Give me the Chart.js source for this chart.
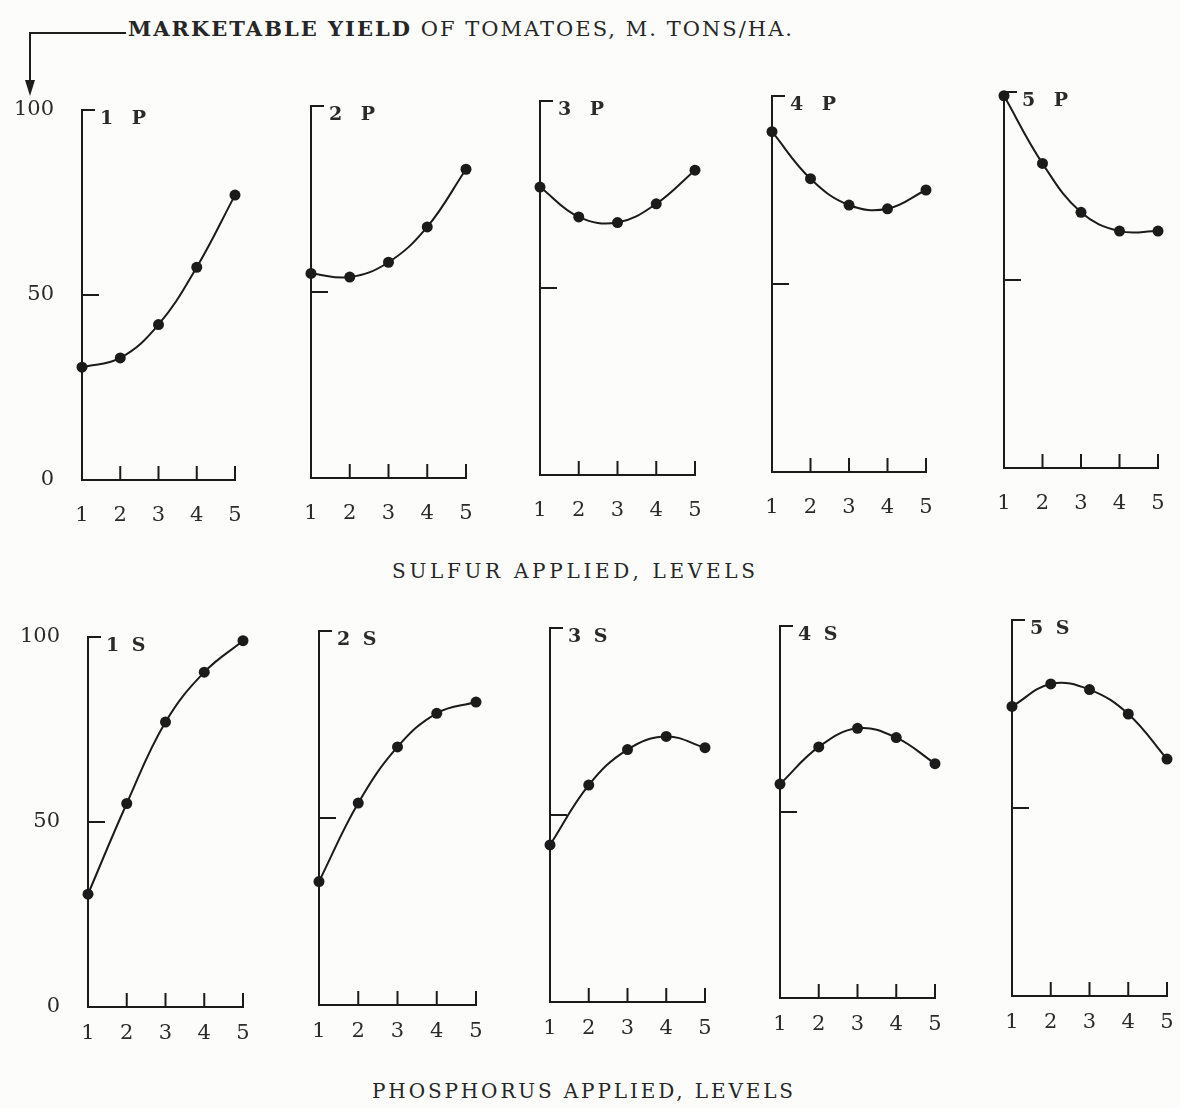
<!DOCTYPE html>
<html>
<head>
<meta charset="utf-8">
<title>Marketable yield of tomatoes</title>
<script src="https://cdn.jsdelivr.net/npm/chart.js@4.4.1/dist/chart.umd.min.js"></script>
<style>
  html, body { margin: 0; padding: 0; background: #fcfcfb; }
  #page { position: relative; width: 1180px; height: 1108px; overflow: hidden; }
  #page canvas { position: absolute; }
  #captions { position: absolute; left: 0; top: 0; }
  #captions text { font-family: 'DejaVu Serif', serif; fill: #262626; }
</style>
</head>
<body>
<div id="page">
  <svg id="captions" width="1180" height="1108">
    <polyline points="126,33 30,33 30,84" fill="none" stroke="#1d1d1d" stroke-width="2"/>
    <polygon points="25,80 35,80 30,96" fill="#1d1d1d"/>
    <text x="128" y="36" font-size="21" textLength="664" lengthAdjust="spacing"><tspan font-weight="bold">MARKETABLE YIELD</tspan> OF TOMATOES, M. TONS/HA.</text>
    <text x="392" y="578" font-size="20" textLength="363" lengthAdjust="spacing">SULFUR APPLIED, LEVELS</text>
    <text x="372" y="1098" font-size="20" textLength="421" lengthAdjust="spacing">PHOSPHORUS APPLIED, LEVELS</text>
  </svg>
</div>

<script>
/* ── Data: yield (m. tons/ha) by fertiliser level ── */
const LEVELS = ['1', '2', '3', '4', '5'];

// one row per phosphorus level, values at sulfur levels 1..5
const yieldP1 = [30.5, 33, 42, 57.5, 77];
const yieldP2 = [55, 54, 58, 67.5, 83];
const yieldP3 = [77, 69, 67.5, 72.5, 81.5];
const yieldP4 = [90.5, 78, 71, 70, 75];
const yieldP5 = [99, 81, 68, 63, 63];

const TOP_LABELS    = ['1 P', '2 P', '3 P', '4 P', '5 P'];
const BOTTOM_LABELS = ['1 S', '2 S', '3 S', '4 S', '5 S'];

const P_ROWS = [yieldP1, yieldP2, yieldP3, yieldP4, yieldP5];
// bottom row reads the same table down a column: phosphorus levels at fixed sulfur
const sulfurColumn = s => P_ROWS.map(row => row[s]);


/* ── Layout: [x at level 1, x at level 5, y at 0, y at 100] ── */
const TOP_BOXES = [
  [82, 235, 480, 110],
  [311, 466, 478, 106],
  [540, 695, 475, 101],
  [772, 926, 472, 96],
  [1004, 1158, 468, 92],
];
const BOTTOM_BOXES = [
  [88, 243, 1007, 637],
  [319, 476, 1005, 631],
  [550, 705, 1002, 628],
  [780, 935, 998, 626],
  [1012, 1167, 996, 620],
];

const Y_W = 70, X_H = 60, PAD_T = 24, PAD_R = 24;
const INK   = '#1b1b1b';
const TEXT  = '#2a2a2a';
const SERIF = "'DejaVu Serif', serif";


/* ── Inward tick marks, top bracket and panel caption ── */
const panelAxes = {
  id: 'panelAxes',
  afterDatasetsDraw(chart, args, opts) {
    const { ctx, chartArea: a, scales: { x, y } } = chart;
    ctx.save();
    ctx.strokeStyle = INK;
    ctx.lineWidth = 2;
    ctx.beginPath();
    for (let i = 1; i < LEVELS.length; i++) {
      const px = x.getPixelForTick(i);
      ctx.moveTo(px, a.bottom);
      ctx.lineTo(px, a.bottom - 14);
    }
    const mid = y.getPixelForValue(50);
    ctx.moveTo(a.left, mid);
    ctx.lineTo(a.left + 17, mid);
    ctx.moveTo(a.left - 1, a.top);
    ctx.lineTo(a.left + 13, a.top);
    ctx.stroke();

    ctx.fillStyle = TEXT;
    ctx.font = `bold 19px ${SERIF}`;
    if ('letterSpacing' in ctx) ctx.letterSpacing = opts.spacing + 'px';
    ctx.fillText(opts.label, a.left + 18, a.top + 14);
    ctx.restore();
  },
};

// fixed scale sizes so every panel's plot box lands where the layout says
function fixSize(prop, size) {
  return s => {
    s[prop] = size;
    s.paddingTop = s.paddingBottom = s.paddingLeft = s.paddingRight = 0;
  };
}


function makePanel(box, values, label, row) {
  const [x0, x5, y0, y100] = box;
  const w = Y_W + (x5 - x0) + PAD_R;
  const h = PAD_T + (y0 - y100) + X_H;

  const canvas = document.createElement('canvas');
  canvas.width  = w;
  canvas.height = h;
  canvas.style.left   = (x0 - Y_W) + 'px';
  canvas.style.top    = (y100 - PAD_T) + 'px';
  canvas.style.width  = w + 'px';
  canvas.style.height = h + 'px';
  document.getElementById('page').appendChild(canvas);

  new Chart(canvas, {
    type: 'line',
    data: {
      labels: LEVELS,
      datasets: [{
        data:                 values,
        borderColor:          INK,
        borderWidth:          2,
        pointRadius:          5.5,
        pointBackgroundColor: INK,
        pointBorderWidth:     0,
        tension:              0.4,
        fill:                 false,
        clip:                 false,
      }],
    },
    options: {
      responsive: false,
      animation:  false,
      events:     [],
      layout: { padding: { top: PAD_T, right: PAD_R, left: 0, bottom: 0 } },
      plugins: {
        legend:  { display: false },
        tooltip: { enabled: false },
        panelAxes: { label, spacing: row.spacing },
      },
      scales: {
        x: {
          offset: false,
          grid:   { display: false, drawTicks: false },
          border: { display: true, color: INK, width: 2 },
          ticks:  {
            color: TEXT, font: { family: SERIF, size: 21 },
            padding: row.tickPad, maxRotation: 0, autoSkip: false,
          },
          afterFit: fixSize('height', X_H),
        },
        y: {
          min: 0, max: 100,
          grid:   { display: false, drawTicks: false },
          border: { display: true, color: INK, width: 2 },
          ticks:  {
            display: row.showY, stepSize: 50, padding: 28,
            color: TEXT, font: { family: SERIF, size: 21 },
          },
          afterFit: fixSize('width', Y_W),
        },
      },
    },
    plugins: [panelAxes],
  });
}


/* ── Init ── */
TOP_BOXES.forEach((box, i) => {
  makePanel(box, P_ROWS[i], TOP_LABELS[i], { showY: i === 0, tickPad: 23, spacing: 6 });
});
BOTTOM_BOXES.forEach((box, i) => {
  makePanel(box, sulfurColumn(i), BOTTOM_LABELS[i], { showY: i === 0, tickPad: 14, spacing: 3 });
});
</script>
</body>
</html>
